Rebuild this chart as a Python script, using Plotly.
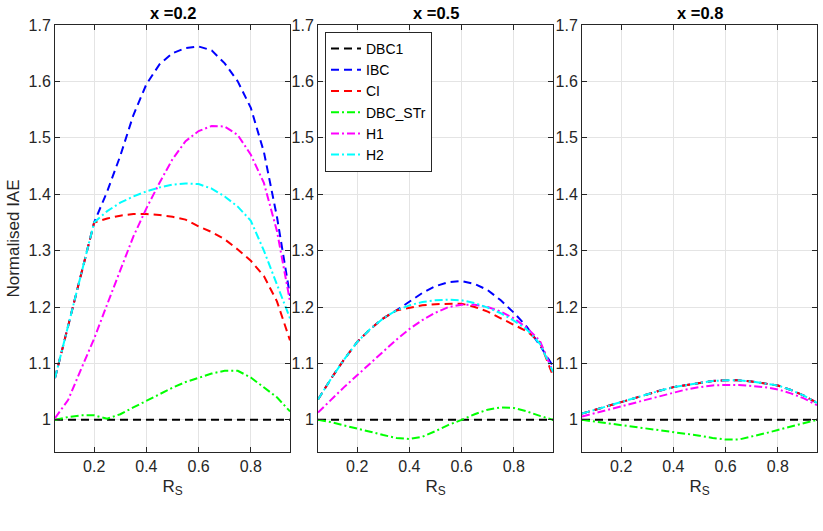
import plotly.graph_objects as go
from plotly.subplots import make_subplots

RS = [0.05, 0.10, 0.15, 0.20, 0.25, 0.30, 0.35, 0.40, 0.45, 0.50,
      0.55, 0.60, 0.65, 0.70, 0.75, 0.80, 0.85, 0.90, 0.95]

panel_titles = ["x =0.2", "x =0.5", "x =0.8"]
series_names = ["DBC1", "IBC", "CI", "DBC_STr", "H1", "H2"]

# ---- x = 0.2 ----
DBC1_a = [1.0] * 19
IBC_a = [1.074, 1.166, 1.258, 1.35, 1.405, 1.468, 1.54, 1.595, 1.63, 1.65,
         1.659, 1.662, 1.655, 1.632, 1.60, 1.553, 1.475, 1.36, 1.22]
CI_a = [1.074, 1.166, 1.258, 1.35, 1.357, 1.362, 1.365, 1.365, 1.363, 1.36,
        1.355, 1.343, 1.333, 1.32, 1.302, 1.282, 1.255, 1.21, 1.141]
STr_a = [1.0, 1.005, 1.008, 1.008, 1.002, 1.010, 1.022, 1.034, 1.046, 1.057,
         1.067, 1.075, 1.082, 1.087, 1.087, 1.075, 1.057, 1.040, 1.015]
H1_a = [1.003, 1.035, 1.09, 1.144, 1.205, 1.265, 1.325, 1.375, 1.42, 1.462,
        1.494, 1.512, 1.521, 1.52, 1.505, 1.47, 1.42, 1.335, 1.21]
H2_a = [1.074, 1.166, 1.258, 1.35, 1.37, 1.385, 1.396, 1.405, 1.412, 1.417,
        1.419, 1.418, 1.41, 1.396, 1.378, 1.353, 1.30, 1.24, 1.18]

# ---- x = 0.5 ----
DBC1_b = [1.0] * 19
IBC_b = [1.036, 1.073, 1.107, 1.138, 1.161, 1.18, 1.194, 1.209, 1.225, 1.237,
         1.244, 1.246, 1.241, 1.23, 1.212, 1.19, 1.165, 1.132, 1.095]
CI_b = [1.036, 1.073, 1.107, 1.138, 1.161, 1.18, 1.194, 1.199, 1.203, 1.205,
        1.206, 1.206, 1.20, 1.192, 1.18, 1.169, 1.157, 1.138, 1.078]
STr_b = [1.0, 0.996, 0.99, 0.985, 0.979, 0.973, 0.968, 0.966, 0.97, 0.98,
         0.991, 1.0, 1.01, 1.018, 1.022, 1.021, 1.015, 1.007, 1.0]
H1_b = [1.013, 1.036, 1.058, 1.079, 1.10, 1.122, 1.142, 1.161, 1.177, 1.19,
        1.20, 1.204, 1.204, 1.20, 1.192, 1.18, 1.163, 1.14, 1.085]
H2_b = [1.036, 1.073, 1.107, 1.138, 1.161, 1.18, 1.194, 1.203, 1.209, 1.212,
        1.213, 1.212, 1.207, 1.199, 1.189, 1.176, 1.16, 1.135, 1.085]

# ---- x = 0.8 ----
DBC1_c = [1.0] * 19
IBC_c = [1.011, 1.018, 1.025, 1.032, 1.039, 1.046, 1.052, 1.058, 1.062, 1.066,
         1.069, 1.070, 1.070, 1.068, 1.065, 1.061, 1.053, 1.043, 1.030]
CI_c = [1.011, 1.018, 1.025, 1.032, 1.039, 1.046, 1.052, 1.058, 1.062, 1.066,
        1.069, 1.070, 1.070, 1.068, 1.065, 1.061, 1.053, 1.043, 1.030]
STr_c = [1.0, 0.997, 0.994, 0.991, 0.988, 0.985, 0.982, 0.979, 0.976, 0.972,
         0.968, 0.965, 0.965, 0.970, 0.976, 0.982, 0.988, 0.994, 1.0]
H1_c = [1.006, 1.012, 1.018, 1.024, 1.031, 1.037, 1.043, 1.049, 1.054, 1.058,
        1.061, 1.062, 1.062, 1.060, 1.058, 1.054, 1.047, 1.038, 1.026]
H2_c = [1.011, 1.018, 1.025, 1.032, 1.039, 1.046, 1.052, 1.058, 1.062, 1.066,
        1.069, 1.070, 1.070, 1.068, 1.065, 1.061, 1.053, 1.043, 1.030]

panels = [
    [DBC1_a, IBC_a, CI_a, STr_a, H1_a, H2_a],
    [DBC1_b, IBC_b, CI_b, STr_b, H1_b, H2_b],
    [DBC1_c, IBC_c, CI_c, STr_c, H1_c, H2_c],
]

x_ticks = [0.2, 0.4, 0.6, 0.8]
x_tick_text = ["0.2", "0.4", "0.6", "0.8"]
y_ticks = [1.0, 1.1, 1.2, 1.3, 1.4, 1.5, 1.6, 1.7]
y_tick_text = ["1", "1.1", "1.2", "1.3", "1.4", "1.5", "1.6", "1.7"]

colors = ["#000000", "#0000ff", "#ff0000", "#00ff00", "#ff00ff", "#00ffff"]
DASH = "8px,5px"
DASHDOT = "8px,3px,2px,3px"
dashes = [DASH, DASH, DASH, DASHDOT, DASHDOT, DASHDOT]

W, H = 823, 531
ml, mr, mt, mb = 55, 6, 25, 79
pw = W - ml - mr
ph = H - mt - mb

def dom(a, b):
    return [(a - ml) / pw, (b - ml) / pw]

domains = [dom(55, 290), dom(318, 553), dom(582, 817)]

fig = make_subplots(rows=1, cols=3)
AX = "#262626"
FONT = "Liberation Sans, Arial, sans-serif"

for p, series in enumerate(panels):
    for i, ys in enumerate(series):
        fig.add_trace(go.Scatter(
            x=RS, y=ys, mode="lines", name=series_names[i],
            line=dict(color=colors[i], width=2, dash=dashes[i]),
            showlegend=(p == 1), legendgroup=series_names[i],
        ), row=1, col=p + 1)
    xa = "xaxis" if p == 0 else f"xaxis{p+1}"
    ya = "yaxis" if p == 0 else f"yaxis{p+1}"
    fig.layout[xa].update(
        domain=domains[p], range=[0.05, 0.95], tickvals=x_ticks,
        ticktext=x_tick_text,
        showgrid=True, gridcolor="#e4e4e4", gridwidth=1,
        showline=True, linecolor=AX, linewidth=1, mirror="ticks",
        ticks="inside", ticklen=5, tickcolor=AX, zeroline=False,
        tickfont=dict(size=16, color=AX, family=FONT),
        title=dict(text="R<sub>S</sub>", font=dict(size=17, color=AX, family=FONT), standoff=5),
    )
    fig.layout[ya].update(
        range=[0.943, 1.7], tickvals=y_ticks, ticktext=y_tick_text,
        showgrid=True, gridcolor="#e4e4e4", gridwidth=1,
        showline=True, linecolor=AX, linewidth=1, mirror="ticks",
        ticks="inside", ticklen=5, tickcolor=AX, zeroline=False,
        tickfont=dict(size=16, color=AX, family=FONT),
    )
    fig.add_annotation(
        text="<b>" + panel_titles[p] + "</b>", xref="paper", yref="paper",
        x=(domains[p][0] + domains[p][1]) / 2, y=1 + (mt - 13) / ph,
        xanchor="center", yanchor="middle", showarrow=False,
        font=dict(size=16.5, color="#000000", family=FONT),
    )

fig.layout.yaxis.title = dict(text="Normalised IAE", font=dict(size=17, color=AX, family=FONT), standoff=4)

fig.update_layout(
    width=W, height=H,
    margin=dict(l=ml, r=mr, t=mt, b=mb, pad=0),
    paper_bgcolor="white", plot_bgcolor="white",
    font=dict(family=FONT, color=AX),
    legend=dict(
        x=(325 - ml) / pw, y=1 - (32 - mt) / ph, xanchor="left", yanchor="top",
        bgcolor="white", bordercolor=AX, borderwidth=1,
        font=dict(size=14, color="#000000", family=FONT),
        tracegroupgap=0, itemwidth=30,
    ),
    showlegend=True,
)

fig.write_html("out.html")
